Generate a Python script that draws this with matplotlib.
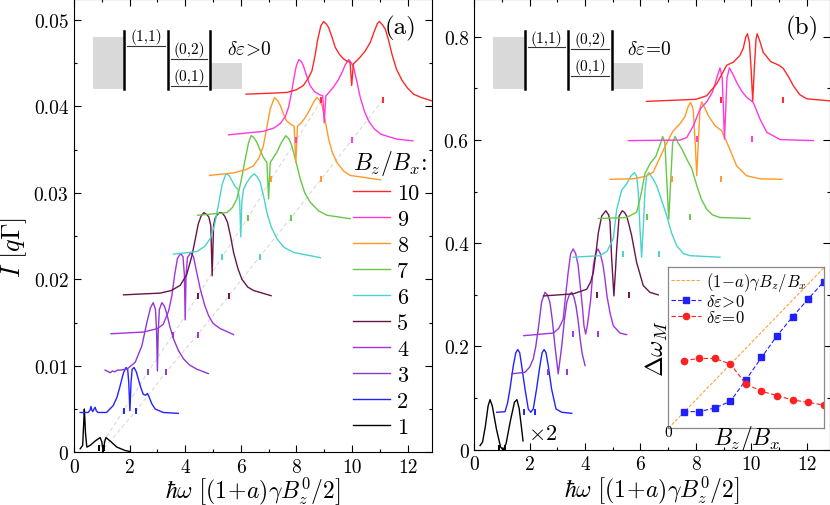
import matplotlib
matplotlib.use('Agg')
import matplotlib.pyplot as plt
from matplotlib.patches import Rectangle
from matplotlib.ticker import FixedLocator, FixedFormatter, MultipleLocator

plt.rcParams['font.family'] = 'cmr10'
plt.rcParams['mathtext.fontset'] = 'cm'
plt.rcParams['axes.unicode_minus'] = False
plt.rcParams['axes.formatter.use_mathtext'] = True

# ---------------- data ----------------
ratios = [1, 2, 3, 4, 5, 6, 7, 8, 9, 10]
colors = ['#000000', '#2222ff', '#8c38d2', '#a233e0', '#661648',
          '#48d4cc', '#66c846', '#ff9a26', '#ff38e0', '#ff2828']

# panel (a): delta epsilon > 0
a1_x = [0.22, 0.31, 0.35, 0.37, 0.39, 0.41, 0.46, 0.58, 0.76, 0.94, 1.0, 1.05, 1.1, 1.15, 1.3, 1.54, 1.84, 2.0]
a1_y = [0.0004, 0.0008, 0.0035, 0.0050, 0.0038, 0.0023, 0.0006, 0.0008, 0.0013, 0.0017, 0.0012, 0.0, 0.0012, 0.0017, 0.0013, 0.0006, 0.0002, 0.0001]
a2_x = [0.22, 0.51, 0.58, 0.61, 0.64, 0.67, 0.72, 0.76, 0.80, 0.86, 1.17, 1.41, 1.55, 1.66, 1.78, 1.87, 1.93, 1.97, 2.01, 2.05, 2.09, 2.16, 2.24, 2.31, 2.40, 2.49, 2.58, 2.64, 2.70, 2.80, 2.92, 3.21, 3.75]
a2_y = [0.0046, 0.0046, 0.0049, 0.0053, 0.0049, 0.0047, 0.0050, 0.0052, 0.0048, 0.0046, 0.0046, 0.0054, 0.0064, 0.0077, 0.0092, 0.0098, 0.0096, 0.0080, 0.0048, 0.0080, 0.0096, 0.0098, 0.0093, 0.0085, 0.0075, 0.0067, 0.0066, 0.0068, 0.0064, 0.0056, 0.0050, 0.0046, 0.0045]
a3_x = [1.12, 1.3, 1.38, 1.47, 1.55, 1.66, 1.9, 2.2, 2.44, 2.62, 2.75, 2.85, 2.93, 2.97, 3.0, 3.03, 3.07, 3.16, 3.25, 3.34, 3.45, 3.58, 3.75, 3.94, 4.15, 4.42, 4.83]
a3_y = [0.0095, 0.0092, 0.0094, 0.0093, 0.0095, 0.0095, 0.0096, 0.0104, 0.0123, 0.0150, 0.0167, 0.0173, 0.0165, 0.0140, 0.0094, 0.0140, 0.0165, 0.0173, 0.0169, 0.0160, 0.0145, 0.0131, 0.0118, 0.0108, 0.0101, 0.0096, 0.0091]
a4_x = [1.33, 2.5, 3.0, 3.21, 3.4, 3.52, 3.62, 3.72, 3.84, 3.92, 3.97, 4.0, 4.03, 4.08, 4.2, 4.3, 4.4, 4.54, 4.7, 4.84, 5.0, 5.26, 5.74]
a4_y = [0.0137, 0.0139, 0.0143, 0.0148, 0.0163, 0.0181, 0.0205, 0.0224, 0.0230, 0.0226, 0.0205, 0.0153, 0.0205, 0.0225, 0.0231, 0.0226, 0.0210, 0.0189, 0.0170, 0.0158, 0.0149, 0.0143, 0.0136]
a5_x = [1.78, 3.1, 3.5, 3.82, 4.05, 4.24, 4.36, 4.47, 4.57, 4.67, 4.77, 4.85, 4.92, 4.97, 5.02, 5.07, 5.14, 5.23, 5.32, 5.42, 5.52, 5.63, 5.74, 5.9, 6.04, 6.25, 6.46, 7.09]
a5_y = [0.0182, 0.0184, 0.0187, 0.0193, 0.0205, 0.0227, 0.0246, 0.0264, 0.0273, 0.0277, 0.0275, 0.0272, 0.0262, 0.0204, 0.0262, 0.0270, 0.0274, 0.0277, 0.0277, 0.0273, 0.0266, 0.0250, 0.0231, 0.0212, 0.0200, 0.0191, 0.0187, 0.0181]
a6_x = [3.57, 4.42, 4.7, 4.9, 5.05, 5.19, 5.33, 5.47, 5.58, 5.68, 5.8, 5.9, 5.96, 6.0, 6.04, 6.1, 6.22, 6.35, 6.48, 6.6, 6.7, 6.82, 6.94, 7.1, 7.3, 7.55, 7.9, 8.86]
a6_y = [0.0229, 0.0232, 0.0238, 0.0247, 0.0262, 0.0285, 0.0310, 0.0322, 0.0320, 0.0314, 0.0307, 0.0304, 0.0290, 0.0249, 0.0290, 0.0304, 0.0312, 0.0318, 0.0322, 0.0318, 0.0312, 0.0296, 0.0277, 0.0260, 0.0247, 0.0237, 0.0231, 0.0225]
a7_x = [4.45, 5.5, 5.7, 5.86, 6.0, 6.16, 6.28, 6.37, 6.47, 6.58, 6.7, 6.81, 6.94, 7.0, 7.06, 7.18, 7.3, 7.46, 7.62, 7.74, 7.84, 8.0, 8.14, 8.3, 8.5, 8.8, 9.1, 9.94]
a7_y = [0.0274, 0.0277, 0.0283, 0.0293, 0.0312, 0.0339, 0.0358, 0.0366, 0.0364, 0.0358, 0.0349, 0.0341, 0.0335, 0.0293, 0.0335, 0.0341, 0.0347, 0.0358, 0.0366, 0.0362, 0.0354, 0.0334, 0.0316, 0.0300, 0.0289, 0.0279, 0.0274, 0.0270]
a8_x = [4.87, 5.74, 6.2, 6.45, 6.65, 6.81, 6.95, 7.06, 7.21, 7.32, 7.42, 7.55, 7.65, 7.8, 7.92, 7.98, 8.04, 8.15, 8.32, 8.45, 8.56, 8.66, 8.74, 8.83, 8.92, 9.04, 9.16, 9.3, 9.46, 9.7, 9.94, 11.02]
a8_y = [0.0320, 0.0323, 0.0327, 0.0331, 0.0340, 0.0354, 0.0378, 0.0397, 0.0410, 0.0407, 0.0401, 0.0390, 0.0383, 0.0379, 0.0377, 0.0335, 0.0377, 0.0380, 0.0387, 0.0394, 0.0401, 0.0407, 0.0410, 0.0407, 0.0401, 0.0383, 0.0362, 0.0346, 0.0335, 0.0325, 0.0320, 0.0315]
a9_x = [5.56, 6.82, 7.2, 7.42, 7.6, 7.72, 7.82, 7.92, 8.0, 8.09, 8.17, 8.25, 8.37, 8.49, 8.65, 8.79, 8.95, 9.0, 9.06, 9.2, 9.33, 9.5, 9.64, 9.76, 9.88, 9.96, 10.06, 10.18, 10.3, 10.45, 10.6, 10.8, 11.02, 11.3, 11.62, 12.19]
a9_y = [0.0367, 0.0371, 0.0375, 0.0380, 0.0388, 0.0399, 0.0415, 0.0434, 0.0447, 0.0454, 0.0452, 0.0447, 0.0435, 0.0424, 0.0417, 0.0414, 0.0412, 0.0381, 0.0412, 0.0417, 0.0422, 0.0430, 0.0439, 0.0448, 0.0454, 0.0451, 0.0445, 0.0428, 0.0410, 0.0394, 0.0383, 0.0374, 0.0368, 0.0365, 0.0362, 0.0360]
a10_x = [6.19, 7.0, 7.66, 8.0, 8.25, 8.42, 8.56, 8.68, 8.76, 8.88, 8.98, 9.08, 9.16, 9.28, 9.4, 9.55, 9.69, 9.82, 9.93, 9.99, 10.05, 10.18, 10.3, 10.48, 10.66, 10.82, 10.92, 10.99, 11.1, 11.2, 11.32, 11.44, 11.6, 11.8, 12.0, 12.22, 12.5, 12.9]
a10_y = [0.0414, 0.0415, 0.0416, 0.0419, 0.0424, 0.0432, 0.0441, 0.0460, 0.0476, 0.0493, 0.0498, 0.0495, 0.0491, 0.0480, 0.0468, 0.0460, 0.0455, 0.0452, 0.0451, 0.0424, 0.0449, 0.0453, 0.0457, 0.0464, 0.0474, 0.0488, 0.0496, 0.0498, 0.0494, 0.0489, 0.0476, 0.0460, 0.0443, 0.0430, 0.0421, 0.0414, 0.0410, 0.0406]
a_tick_lo = [0.90, 1.78, 2.66, 3.56, 4.45, 5.33, 6.25, 7.10, 8.00, 8.90]
a_tick_hi = [1.08, 2.24, 3.32, 4.45, 5.57, 6.68, 7.80, 8.90, 10.00, 11.10]
a_tick_y = [0.0005, 0.0048, 0.0093, 0.0136, 0.0181, 0.0226, 0.0271, 0.0316, 0.0361, 0.0407]

# panel (b): delta epsilon = 0
b1_x = [0.21, 0.3, 0.4, 0.5, 0.57, 0.65, 0.8, 0.95, 1.05, 1.15, 1.3, 1.45, 1.54, 1.62, 1.7, 1.76]
b1_y = [0.008, 0.015, 0.045, 0.085, 0.097, 0.085, 0.040, 0.005, 0.0, 0.012, 0.055, 0.092, 0.097, 0.080, 0.045, 0.017]
b2_x = [0.81, 1.11, 1.2, 1.29, 1.41, 1.5, 1.57, 1.64, 1.71, 1.83, 1.95, 2.04, 2.13, 2.25, 2.37, 2.45, 2.52, 2.59, 2.67, 2.79, 2.95, 3.16, 3.52]
b2_y = [0.0725, 0.0736, 0.090, 0.118, 0.163, 0.188, 0.194, 0.188, 0.163, 0.118, 0.079, 0.0725, 0.079, 0.118, 0.163, 0.188, 0.194, 0.188, 0.163, 0.118, 0.079, 0.0725, 0.0705]
b3_x = [1.35, 1.83, 2.0, 2.13, 2.22, 2.31, 2.43, 2.55, 2.64, 2.73, 2.82, 2.91, 3.03, 3.16, 3.25, 3.34, 3.43, 3.52, 3.6, 3.67, 3.75, 3.82, 3.9, 4.0]
b3_y = [0.147, 0.150, 0.160, 0.176, 0.200, 0.234, 0.286, 0.305, 0.300, 0.286, 0.250, 0.202, 0.147, 0.202, 0.250, 0.286, 0.300, 0.305, 0.295, 0.279, 0.250, 0.215, 0.185, 0.163]
b4_x = [1.79, 2.85, 3.05, 3.21, 3.3, 3.39, 3.48, 3.57, 3.66, 3.75, 3.83, 3.9, 3.96, 4.02, 4.08, 4.14, 4.2, 4.3, 4.38, 4.46, 4.55, 4.65, 4.72, 4.79, 4.9, 5.02, 5.26, 5.5]
b4_y = [0.221, 0.226, 0.235, 0.253, 0.300, 0.344, 0.380, 0.389, 0.380, 0.357, 0.315, 0.279, 0.240, 0.224, 0.240, 0.265, 0.290, 0.357, 0.380, 0.389, 0.380, 0.357, 0.330, 0.298, 0.265, 0.240, 0.226, 0.223]
b5_x = [2.5, 3.57, 4.06, 4.2, 4.3, 4.4, 4.48, 4.6, 4.75, 4.85, 4.9, 4.96, 5.04, 5.1, 5.14, 5.23, 5.34, 5.42, 5.5, 5.59, 5.68, 5.86, 6.1, 6.34, 6.64]
b5_y = [0.298, 0.302, 0.311, 0.325, 0.344, 0.385, 0.421, 0.453, 0.463, 0.455, 0.441, 0.370, 0.298, 0.350, 0.389, 0.453, 0.463, 0.460, 0.453, 0.435, 0.415, 0.363, 0.318, 0.305, 0.300]
b6_x = [3.57, 4.54, 4.8, 5.02, 5.14, 5.32, 5.5, 5.65, 5.78, 5.86, 5.92, 5.98, 6.04, 6.10, 6.16, 6.22, 6.3, 6.45, 6.58, 6.75, 6.95, 7.12, 7.31, 7.55, 7.79, 8.87]
b6_y = [0.373, 0.376, 0.385, 0.410, 0.465, 0.503, 0.515, 0.530, 0.537, 0.530, 0.500, 0.430, 0.373, 0.430, 0.500, 0.530, 0.537, 0.525, 0.512, 0.485, 0.453, 0.420, 0.395, 0.380, 0.376, 0.373]
b7_x = [4.48, 5.5, 5.86, 6.0, 6.16, 6.35, 6.55, 6.7, 6.8, 6.88, 6.95, 7.02, 7.09, 7.16, 7.25, 7.35, 7.49, 7.67, 7.85, 8.03, 8.2, 8.39, 8.6, 8.87, 9.95]
b7_y = [0.448, 0.450, 0.460, 0.490, 0.535, 0.555, 0.568, 0.590, 0.607, 0.595, 0.520, 0.447, 0.520, 0.595, 0.607, 0.595, 0.583, 0.563, 0.545, 0.512, 0.485, 0.466, 0.455, 0.450, 0.448]
b8_x = [4.9, 5.74, 6.2, 6.46, 6.82, 7.0, 7.18, 7.43, 7.6, 7.72, 7.81, 7.9, 7.97, 8.03, 8.09, 8.15, 8.21, 8.3, 8.45, 8.69, 8.93, 9.17, 9.47, 9.83, 10.3, 11.1]
b8_y = [0.524, 0.525, 0.530, 0.538, 0.580, 0.600, 0.618, 0.632, 0.645, 0.665, 0.673, 0.660, 0.600, 0.531, 0.600, 0.662, 0.674, 0.665, 0.647, 0.628, 0.618, 0.589, 0.550, 0.531, 0.525, 0.524]
b9_x = [5.56, 7.43, 7.67, 7.91, 8.15, 8.4, 8.6, 8.75, 8.87, 8.95, 9.0, 9.03, 9.07, 9.12, 9.21, 9.33, 9.47, 9.65, 9.83, 10.07, 10.31, 10.56, 11.04, 12.24]
b9_y = [0.599, 0.600, 0.605, 0.628, 0.660, 0.675, 0.693, 0.720, 0.740, 0.720, 0.650, 0.602, 0.650, 0.720, 0.740, 0.728, 0.712, 0.695, 0.683, 0.673, 0.641, 0.615, 0.601, 0.599]
b10_x = [6.22, 8.0, 8.39, 8.75, 9.11, 9.35, 9.59, 9.71, 9.8, 9.86, 9.93, 9.99, 10.05, 10.11, 10.17, 10.21, 10.3, 10.43, 10.7, 11.0, 11.15, 11.35, 11.52, 11.75, 12.0, 12.84]
b10_y = [0.675, 0.679, 0.686, 0.709, 0.745, 0.751, 0.764, 0.778, 0.800, 0.806, 0.790, 0.740, 0.676, 0.740, 0.795, 0.806, 0.793, 0.770, 0.752, 0.745, 0.739, 0.722, 0.705, 0.688, 0.680, 0.676]
b_tick_lo = [0.90, 1.80, 2.66, 3.55, 4.44, 5.36, 6.22, 7.13, 8.03, 8.90]
b_tick_hi = [1.10, 2.19, 3.34, 4.48, 5.58, 6.68, 7.79, 8.90, 10.01, 11.13]
b_tick_y = [0.004, 0.074, 0.150, 0.224, 0.300, 0.380, 0.450, 0.525, 0.602, 0.678]

# inset: peak splitting versus Bz/Bx
inset_ratio = [1, 2, 3, 4, 5, 6, 7, 8, 9, 10]
inset_pos = [1.04, 1.04, 1.27, 1.68, 3.03, 4.42, 5.77, 6.96, 8.06, 9.14]
inset_zero = [4.22, 4.36, 4.36, 4.01, 2.76, 2.31, 2.04, 1.77, 1.62, 1.45]
inset_ref_x = [0.0, 10.05]
inset_ref_y = [0.0, 10.05]

a_curves = [(a1_x, a1_y), (a2_x, a2_y), (a3_x, a3_y), (a4_x, a4_y), (a5_x, a5_y),
            (a6_x, a6_y), (a7_x, a7_y), (a8_x, a8_y), (a9_x, a9_y), (a10_x, a10_y)]
b_curves = [(b1_x, b1_y), (b2_x, b2_y), (b3_x, b3_y), (b4_x, b4_y), (b5_x, b5_y),
            (b6_x, b6_y), (b7_x, b7_y), (b8_x, b8_y), (b9_x, b9_y), (b10_x, b10_y)]

xlabel = r'$\hbar\omega\ \left[(1\!+\!a)\gamma B_z^0/2\right]$'

fig = plt.figure(figsize=(8.3, 5.06), dpi=100)
axA = fig.add_axes([0.0892, 0.1042, 0.4313, 0.8958])
axB = fig.add_axes([0.5714, 0.1093, 0.4286, 0.8907])


def style(ax, ylim, yticks, ylabels, yminor, pad):
    ax.set_xlim(0, 12.88)
    ax.set_ylim(*ylim)
    ax.xaxis.set_major_locator(FixedLocator([0, 2, 4, 6, 8, 10, 12]))
    ax.xaxis.set_major_formatter(FixedFormatter(['0', '2', '4', '6', '8', '10', '12']))
    ax.xaxis.set_minor_locator(MultipleLocator(1))
    ax.yaxis.set_major_locator(FixedLocator(yticks))
    ax.yaxis.set_major_formatter(FixedFormatter(ylabels))
    ax.yaxis.set_minor_locator(MultipleLocator(yminor))
    ax.tick_params(which='both', direction='in', top=True, right=True, labelsize=14, pad=4)
    ax.tick_params(which='major', length=5, width=0.8)
    ax.tick_params(which='minor', length=2.5, width=0.8)
    ax.set_xlabel(xlabel, fontsize=17, labelpad=pad)


style(axA, (0, 0.0524), [0, 0.01, 0.02, 0.03, 0.04, 0.05],
      ['0', '0.01', '0.02', '0.03', '0.04', '0.05'], 0.005, -1)
style(axB, (0, 0.8734), [0, 0.2, 0.4, 0.6, 0.8],
      ['0', '0.2', '0.4', '0.6', '0.8'], 0.1, 0)
axB.set_xlim(0, 12.84)

axA.set_ylabel(r'$I\ [q\Gamma]$', fontsize=19)
axA.yaxis.set_label_coords(-0.125, 0.455)

# guide lines through the marker ticks in (a)
axA.plot(a_tick_lo, a_tick_y, color='#d4d4d4', lw=0.7, dashes=(4, 3), zorder=1)
axA.plot(a_tick_hi, a_tick_y, color='#d4d4d4', lw=0.7, dashes=(4, 3), zorder=1)

handles = []
for i, (cx, cy) in enumerate(a_curves):
    ln, = axA.plot(cx, cy, color=colors[i], lw=1.0, label=str(ratios[i]), zorder=2 + i)
    handles.append(ln)
    axA.plot([a_tick_lo[i], a_tick_hi[i]], [a_tick_y[i], a_tick_y[i]], ls='none',
             marker='|', ms=5, mew=1.4, color=colors[i], zorder=2 + i)

for i, (cx, cy) in enumerate(b_curves):
    axB.plot(cx, cy, color=colors[i], lw=1.0, zorder=2 + i)
    axB.plot([b_tick_lo[i], b_tick_hi[i]], [b_tick_y[i], b_tick_y[i]], ls='none',
             marker='|', ms=5, mew=1.4, color=colors[i], zorder=2 + i)

leg = axA.legend(handles[::-1], [h.get_label() for h in handles[::-1]],
                 title=r'$B_z/B_x$:', loc='upper left', bbox_to_anchor=(0.778, 0.671),
                 frameon=False, fontsize=16, title_fontsize=17, handlelength=1.7,
                 handletextpad=0.3, labelspacing=0.29, borderpad=0, borderaxespad=0,
                 alignment='left')

axA.text(0.955, 0.965, '(a)', transform=axA.transAxes, ha='right', va='top', fontsize=18)
axB.text(0.968, 0.965, '(b)', transform=axB.transAxes, ha='right', va='top', fontsize=18)
axB.text(1.95, 0.031, r'$\times 2$', fontsize=16, ha='left', va='center')


def diagram(ax, f, levels, label):
    tr = ax.transAxes
    ax.add_patch(Rectangle((f[0], 0.801), f[1] - f[0], 0.115, transform=tr,
                           facecolor='#d9d9d9', edgecolor='none', zorder=1))
    ax.add_patch(Rectangle((f[6], 0.801), f[7] - f[6], 0.057, transform=tr,
                           facecolor='#d9d9d9', edgecolor='none', zorder=1))
    for vx in (f[2], f[4], f[5]):
        ax.plot([vx, vx], [0.801, 0.93], transform=tr, color='k', lw=1.8, zorder=3)
    ax.plot([f[2] + 0.008, f[3]], [levels[0], levels[0]], transform=tr, color='#333333', lw=0.8)
    ax.plot([f[4] + 0.008, f[5] - 0.008], [levels[1], levels[1]], transform=tr, color='#333333', lw=0.8)
    ax.plot([f[4] + 0.008, f[5] - 0.008], [levels[2], levels[2]], transform=tr, color='#333333', lw=0.8)
    ax.text((f[2] + f[3]) / 2 + 0.004, levels[0] + 0.004, '(1,1)', transform=tr,
            ha='center', va='bottom', fontsize=11)
    ax.text((f[4] + f[5]) / 2, levels[1] + 0.004, '(0,2)', transform=tr,
            ha='center', va='bottom', fontsize=11)
    ax.text((f[4] + f[5]) / 2, levels[2] + 0.004, '(0,1)', transform=tr,
            ha='center', va='bottom', fontsize=11)
    ax.text(f[7] + 0.02, 0.889, label, transform=tr, ha='center', va='center', fontsize=14)


diagram(axA, [0.053, 0.137, 0.1397, 0.254, 0.2626, 0.3799, 0.3827, 0.4693],
        [0.8967, 0.8676, 0.8074], r'$\delta\varepsilon\!>\!0$')
diagram(axB, [0.0534, 0.1397, 0.1425, 0.255, 0.2643, 0.388, 0.3908, 0.4734],
        [0.8928, 0.889, 0.8285], r'$\delta\varepsilon\!=\!0$')

# inset
axI = fig.add_axes([0.8052, 0.1516, 0.1880, 0.3182])
axI.plot(inset_ref_x, inset_ref_y, color='#ffa040', lw=0.8, dashes=(3, 1.5),
         label=r'$(1\!-\!a)\gamma B_z/B_x$')
axI.plot(inset_ratio, inset_pos, color='#2020ff', lw=0.8, dashes=(4, 2), marker='s',
         ms=4, label=r'$\delta\varepsilon\!>\!0$')
axI.plot(inset_ratio, inset_zero, color='#ff2020', lw=0.8, dashes=(4, 2), marker='o',
         ms=4.5, label=r'$\delta\varepsilon\!=\!0$')
axI.set_xlim(0, 10.05)
axI.set_ylim(0, 10.05)
axI.set_xticks([])
axI.set_yticks([])
for s in axI.spines.values():
    s.set_color('#888888')
    s.set_linewidth(0.9)
axI.legend(loc='upper left', frameon=False, fontsize=12, handlelength=1.8,
           handletextpad=0.3, labelspacing=0.0, borderpad=0.1, borderaxespad=0.05)
axI.text(0.5, 0.035, r'$B_z/B_x$', transform=axI.transAxes, ha='center', va='top', fontsize=17)
axI.text(0.0, -0.025, '0', transform=axI.transAxes, ha='center', va='center', fontsize=11)
axI.text(-0.075, 0.5, r'$\Delta\omega_M$', transform=axI.transAxes, ha='center',
         va='center', rotation=90, fontsize=18)

fig.savefig('out.png', dpi=100)
